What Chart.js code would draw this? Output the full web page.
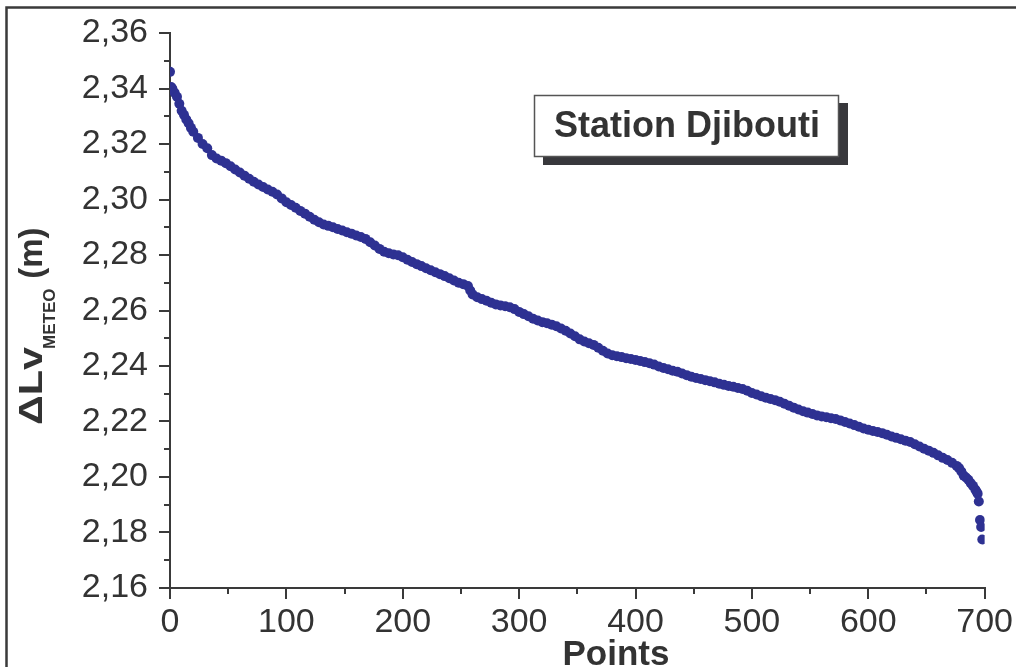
<!DOCTYPE html>
<html><head><meta charset="utf-8">
<script src="https://cdn.jsdelivr.net/npm/chart.js@4.4.0/dist/chart.umd.min.js"></script>
<style>html,body{margin:0;padding:0;background:#fff;overflow:hidden}</style>
</head><body>
<canvas id="c" width="1016" height="667"></canvas>
<script>
// ---- data ----
const pointIndex = [
0,1,2,4,6,8,10,12,14,16,18,20,24,28,32,36,40,44,48,52,56,60,64,68,72,76,80,84,88,92,96,
100,104,108,112,116,120,124,128,132,136,140,144,148,152,156,160,164,168,172,176,180,184,188,192,196,
200,204,208,212,216,220,224,228,232,236,240,244,248,252,256,258,260,264,268,272,276,280,284,288,292,296,
300,304,308,312,316,320,324,328,332,336,340,344,348,352,356,360,364,368,372,376,380,384,388,392,396,
400,404,408,412,416,420,424,428,432,436,440,444,448,452,456,460,464,468,472,476,480,484,488,492,496,
500,504,508,512,516,520,524,528,532,536,540,544,548,552,556,560,564,568,572,576,580,584,588,592,596,
600,604,608,612,616,620,624,628,632,636,640,644,648,652,656,660,664,668,672,676,678,680,682,684,686,688,690,692,693,694,695,696,697,698
];
const deltaLvMeteo = [
2.3460,2.3405,2.3400,2.3385,2.3370,2.3345,2.3320,2.3305,2.3288,2.3275,2.3258,2.3244,2.3222,2.3200,2.3185,2.3160,2.3148,2.3140,2.3131,2.3120,2.3108,2.3097,2.3086,2.3075,2.3064,2.3054,2.3045,2.3036,2.3028,2.3018,2.3004,
2.2990,2.2980,2.2970,2.2959,2.2949,2.2938,2.2927,2.2918,2.2910,2.2905,2.2900,2.2894,2.2888,2.2882,2.2877,2.2870,2.2865,2.2858,2.2846,2.2834,2.2822,2.2812,2.2806,2.2802,2.2799,
2.2792,2.2783,2.2775,2.2767,2.2760,2.2752,2.2745,2.2738,2.2731,2.2724,2.2716,2.2708,2.2700,2.2695,2.2688,2.2672,2.2658,2.2648,2.2641,2.2635,2.2628,2.2622,2.2618,2.2615,2.2612,2.2605,
2.2595,2.2587,2.2579,2.2570,2.2564,2.2558,2.2554,2.2549,2.2543,2.2535,2.2527,2.2517,2.2507,2.2496,2.2488,2.2482,2.2476,2.2466,2.2455,2.2445,2.2439,2.2435,2.2432,2.2428,2.2425,
2.2422,2.2418,2.2414,2.2410,2.2405,2.2398,2.2393,2.2388,2.2383,2.2379,2.2373,2.2367,2.2361,2.2357,2.2353,2.2349,2.2345,2.2341,2.2336,2.2332,2.2328,2.2325,2.2321,2.2317,2.2311,
2.2303,2.2297,2.2291,2.2286,2.2281,2.2277,2.2271,2.2264,2.2257,2.2250,2.2243,2.2237,2.2232,2.2227,2.2222,2.2218,2.2215,2.2212,2.2209,2.2204,2.2198,2.2193,2.2187,2.2181,2.2175,
2.2170,2.2166,2.2162,2.2158,2.2152,2.2146,2.2141,2.2136,2.2131,2.2126,2.2118,2.2110,2.2102,2.2095,2.2087,2.2078,2.2069,2.2061,2.2051,2.2040,2.2032,2.2020,2.2005,2.1998,2.1990,2.1978,2.1968,2.1955,2.1948,2.1940,2.1912,2.1845,2.1820,2.1775
];
const xTicks = [0,100,200,300,400,500,600,700];
const xMinorTicks = [50,150,250,350,450,550,650];
const yTicks = [2.16,2.18,2.20,2.22,2.24,2.26,2.28,2.30,2.32,2.34,2.36];
const yMinorTicks = [2.17,2.19,2.21,2.23,2.25,2.27,2.29,2.31,2.33,2.35];
const xTitle = 'Points';
const yTitleMain = 'ΔLv';
const yTitleSub = 'METEO';
const yTitleUnit = ' (m)';
const stationLabel = 'Station Djibouti';

const AX = '#3a3a3a';
const TXT = '#333333';
const DOT = '#2e3192';
const FONT = '"Liberation Sans", Arial, sans-serif';

const extras = {
  id: 'extras',
  afterDraw(chart) {
    const ctx = chart.ctx;
    const xs = chart.scales.x, ys = chart.scales.y;
    const ca = chart.chartArea;
    ctx.save();
    // outer frame (top + left)
    ctx.strokeStyle = AX; ctx.lineWidth = 2.5;
    ctx.beginPath();
    ctx.moveTo(6.5, 680); ctx.lineTo(6.5, 7.5); ctx.lineTo(1020, 7.5);
    ctx.stroke();
    // minor ticks
    ctx.lineWidth = 2; ctx.strokeStyle = AX;
    ctx.beginPath();
    yMinorTicks.forEach(v => { const p = Math.round(ys.getPixelForValue(v)); ctx.moveTo(ca.left, p); ctx.lineTo(ca.left - 6, p); });
    xMinorTicks.forEach(v => { const p = Math.round(xs.getPixelForValue(v)); ctx.moveTo(p, ca.bottom); ctx.lineTo(p, ca.bottom + 6); });
    ctx.stroke();
    // x title
    ctx.fillStyle = TXT;
    ctx.font = 'bold 35px ' + FONT;
    ctx.textAlign = 'center'; ctx.textBaseline = 'alphabetic';
    ctx.fillText(xTitle, 616, 665);
    // y title (rotated)
    ctx.save();
    ctx.translate(42, 425);
    ctx.rotate(-Math.PI / 2);
    ctx.textAlign = 'left';
    ctx.font = 'bold 33px ' + FONT;
    const w = ctx.measureText(yTitleMain).width;
    ctx.save(); ctx.scale(78 / w, 1); ctx.fillText(yTitleMain, 0, 0); ctx.restore();
    ctx.font = 'bold 17px ' + FONT;
    ctx.fillText(yTitleSub, 76, 13);
    ctx.font = 'bold 33px ' + FONT;
    ctx.fillText(yTitleUnit, 137, 0);
    ctx.restore();
    // station box with shadow
    ctx.fillStyle = '#38383c';
    ctx.fillRect(543, 103, 305, 62);
    ctx.fillStyle = '#ffffff';
    ctx.fillRect(534, 95, 305, 62);
    ctx.strokeStyle = '#555'; ctx.lineWidth = 1.5;
    ctx.strokeRect(534.5, 95.5, 304, 61);
    ctx.fillStyle = TXT;
    ctx.font = 'bold 36px ' + FONT;
    ctx.textAlign = 'center'; ctx.textBaseline = 'middle';
    ctx.fillText(stationLabel, 687, 127);
    ctx.restore();
  }
};

new Chart(document.getElementById('c'), {
  type: 'scatter',
  data: {
    datasets: [{
      data: pointIndex.map((x, i) => ({ x, y: deltaLvMeteo[i] })),
      backgroundColor: DOT, borderColor: DOT, borderWidth: 0,
      pointRadius: 5, pointHoverRadius: 5
    }]
  },
  options: {
    responsive: false, animation: false, events: [],
    layout: { padding: { top: 33, right: 28, bottom: 0, left: 0 } },
    plugins: { legend: { display: false }, tooltip: { enabled: false } },
    scales: {
      x: {
        type: 'linear', min: 0, max: 700,
        afterBuildTicks: s => { s.ticks = xTicks.map(v => ({ value: v })); },
        afterFit: s => { s.height = 79; },
        grid: { display: true, drawOnChartArea: false, tickLength: 11, color: AX, lineWidth: 2 },
        border: { display: true, color: AX, width: 2 },
        ticks: { color: TXT, padding: 3, font: { family: FONT, size: 34 }, maxRotation: 0, callback: v => String(v) }
      },
      y: {
        type: 'linear', min: 2.16, max: 2.36,
        afterBuildTicks: s => { s.ticks = yTicks.map(v => ({ value: v })); },
        afterFit: s => { s.width = 170; },
        grid: { display: true, drawOnChartArea: false, tickLength: 11, color: AX, lineWidth: 2 },
        border: { display: true, color: AX, width: 2 },
        ticks: { color: TXT, padding: 11, font: { family: FONT, size: 34 }, callback: v => Number(v).toFixed(2).replace('.', ',') }
      }
    }
  },
  plugins: [extras]
});
</script>
</body></html>
